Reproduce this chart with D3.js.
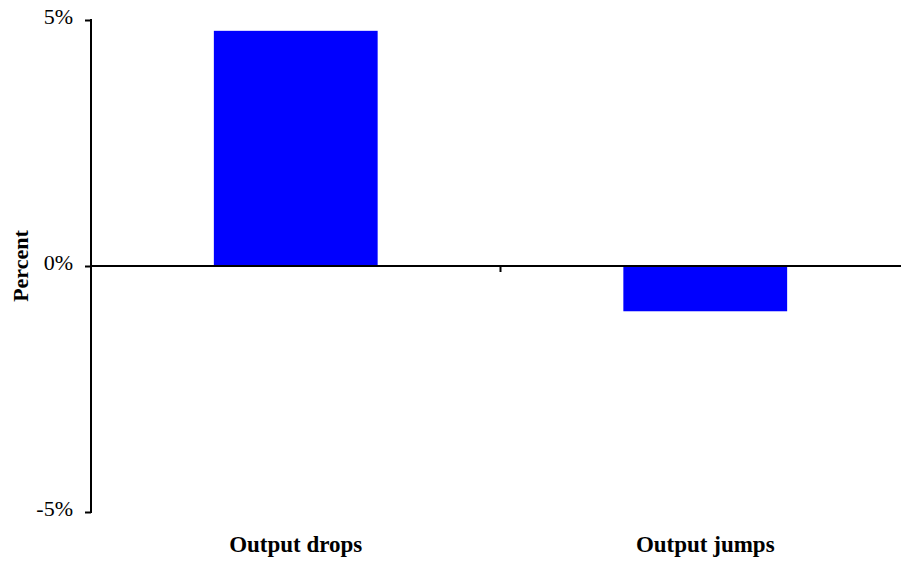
<!DOCTYPE html>
<html>
<head>
<meta charset="utf-8">
<script src="https://cdn.jsdelivr.net/npm/d3@7"></script>
<style>
  body { margin: 0; background: #fff; }
</style>
</head>
<body>
<div id="chart"></div>
<script>
// data
var categories = ['Output drops', 'Output jumps'];
var values = [4.78, -0.92];
var yTicks = [-5, 0, 5];

var width = 902, height = 563;
var serif = "'Liberation Serif', 'DejaVu Serif', serif";

var svg = d3.select('#chart')
    .append('svg')
    .attr('width', width)
    .attr('height', height);

var y = d3.scaleLinear()
    .domain([-5, 5])
    .range([512, 20]);

var x = d3.scaleBand()
    .domain(categories)
    .range([91, 910])
    .paddingInner(0.6)
    .paddingOuter(0.3);

// bars
svg.append('g')
    .selectAll('rect')
    .data(values)
    .enter()
    .append('rect')
    .attr('x', function(d, i) { return x(categories[i]); })
    .attr('width', x.bandwidth())
    .attr('y', function(d) { return y(Math.max(0, d)); })
    .attr('height', function(d) { return Math.abs(y(d) - y(0)); })
    .attr('fill', '#0000ff');

// y axis
var yAxis = d3.axisLeft(y)
    .tickValues(yTicks)
    .tickSize(6)
    .tickPadding(12)
    .tickFormat(function(d) { return d + '%'; });

var gy = svg.append('g')
    .attr('transform', 'translate(91,0)')
    .call(yAxis);
gy.select('.domain').remove();
gy.attr('font-family', null);
gy.selectAll('.tick line').attr('stroke', '#000').attr('stroke-width', 2);
gy.selectAll('.tick text')
    .attr('dy', '0.18em')
    .style('font-family', serif)
    .style('font-size', '22px')
    .attr('fill', '#000');

svg.append('line')
    .attr('x1', 91).attr('x2', 91)
    .attr('y1', y(5) - 1).attr('y2', y(-5) + 1)
    .attr('stroke', '#000')
    .attr('stroke-width', 2);

// zero line + category divider tick
svg.append('line')
    .attr('x1', 91).attr('x2', 901)
    .attr('y1', y(0)).attr('y2', y(0))
    .attr('stroke', '#000')
    .attr('stroke-width', 2);

var mid = (x(categories[0]) + x.bandwidth() / 2 + x(categories[1]) + x.bandwidth() / 2) / 2;
svg.append('line')
    .attr('x1', mid).attr('x2', mid)
    .attr('y1', y(0)).attr('y2', y(0) + 6)
    .attr('stroke', '#000')
    .attr('stroke-width', 2);

// category labels
svg.append('g')
    .selectAll('text')
    .data(categories)
    .enter()
    .append('text')
    .attr('x', function(d) { return x(d) + x.bandwidth() / 2; })
    .attr('y', 552)
    .attr('text-anchor', 'middle')
    .style('font-family', serif)
    .style('font-size', '23px')
    .style('font-weight', 'bold')
    .text(function(d) { return d; });

// y label
svg.append('text')
    .attr('transform', 'translate(28,' + y(0) + ') rotate(-90)')
    .attr('text-anchor', 'middle')
    .style('font-family', serif)
    .style('font-size', '22px')
    .style('font-weight', 'bold')
    .text('Percent');
</script>
</body>
</html>
